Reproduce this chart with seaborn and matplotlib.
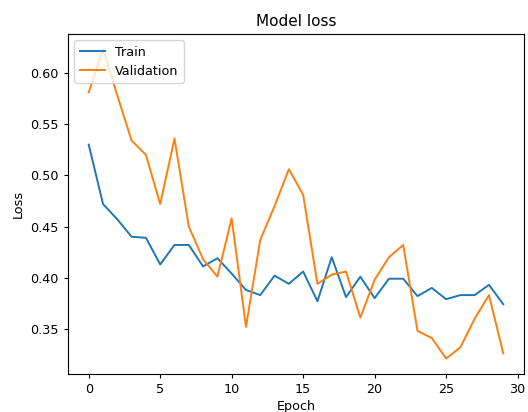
import matplotlib
matplotlib.use("Agg")
import matplotlib.pyplot as plt
import seaborn as sns
import pandas as pd

epochs = list(range(30))
train_loss = [0.530, 0.472, 0.457, 0.440, 0.439, 0.413, 0.432, 0.432, 0.411, 0.419,
              0.404, 0.388, 0.383, 0.402, 0.394, 0.406, 0.377, 0.420, 0.381, 0.401,
              0.380, 0.399, 0.399, 0.382, 0.390, 0.379, 0.383, 0.383, 0.393, 0.374]
val_loss = [0.581, 0.623, 0.578, 0.534, 0.520, 0.472, 0.536, 0.450, 0.418, 0.401,
            0.458, 0.352, 0.437, 0.470, 0.506, 0.481, 0.394, 0.403, 0.406, 0.361,
            0.398, 0.420, 0.432, 0.348, 0.341, 0.321, 0.332, 0.360, 0.383, 0.326]
series_names = ["Train", "Validation"]

df = pd.concat([
    pd.DataFrame({"Epoch": epochs, "Loss": train_loss, "series": series_names[0]}),
    pd.DataFrame({"Epoch": epochs, "Loss": val_loss, "series": series_names[1]}),
])

plt.rcParams["font.size"] = 9.2
plt.rcParams["axes.titlesize"] = 11
plt.rcParams["xtick.major.size"] = 3.2
plt.rcParams["ytick.major.size"] = 3.2

fig = plt.figure(figsize=(5.28, 4.12), dpi=100)
ax = fig.add_axes([68/528, 38/412, 456/528, 340/412])
sns.lineplot(data=df, x="Epoch", y="Loss", hue="series",
             palette=["#1f77b4", "#ff7f0e"], ax=ax, linewidth=1.4)
ax.set_title("Model loss", pad=5.5)
ax.set_xlabel("Epoch", labelpad=3)
ax.set_ylabel("Loss")
ax.set_xticks([0, 5, 10, 15, 20, 25, 30])
ax.legend(loc="upper left", title=None)
fig.savefig("out.png", dpi=100)
